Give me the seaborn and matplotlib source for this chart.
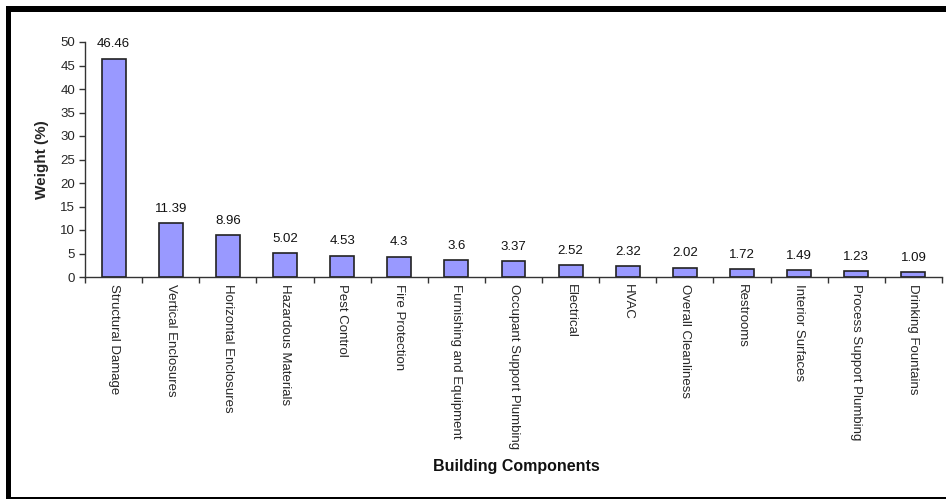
import matplotlib
matplotlib.use("Agg")
import matplotlib.pyplot as plt
import seaborn as sns
import pandas as pd
import numpy as np
from matplotlib.patches import Rectangle

categories = ["Structural Damage", "Vertical Enclosures", "Horizontal Enclosures",
              "Hazardous Materials", "Pest Control", "Fire Protection",
              "Furnishing and Equipment", "Occupant Support Plumbing", "Electrical",
              "HVAC", "Overall Cleanliness", "Restrooms", "Interior Surfaces",
              "Process Support Plumbing", "Drinking Fountains"]
weights = [46.46, 11.39, 8.96, 5.02, 4.53, 4.3, 3.6, 3.37, 2.52, 2.32, 2.02, 1.72, 1.49, 1.23, 1.09]
value_labels = ["46.46", "11.39", "8.96", "5.02", "4.53", "4.3", "3.6", "3.37", "2.52",
                "2.32", "2.02", "1.72", "1.49", "1.23", "1.09"]

sns.set_theme(style="white")
plt.rcParams['font.family'] = ['Liberation Sans', 'DejaVu Sans']

df = pd.DataFrame({"Component": categories, "Weight": weights})

fig = plt.figure(figsize=(9.46, 5.0), dpi=100)
ax = fig.add_axes([85/946, 223/500, 857/946, 235/500])

sns.barplot(data=df, x="Component", y="Weight", color="#9999FF", width=0.42,
            edgecolor="#222222", linewidth=1.2, saturation=1, ax=ax)

ax.set_xlim(-0.5, len(categories) - 0.5)
ax.set_ylim(0, 50)
ax.set_yticks(np.arange(0, 51, 5))
ax.tick_params(axis='y', labelsize=9.5, length=4, width=1, color="#333333", pad=3, left=True, direction='out')
ax.set_xticks(range(len(categories)))
ax.set_xticklabels(categories, rotation=-90, fontsize=9.5, va='top', ha='center')
ax.tick_params(axis='x', which='major', length=0, pad=5)
ax.set_xticks(np.arange(-0.5, len(categories) + 0.5, 1), minor=True)
ax.tick_params(axis='x', which='minor', length=4, width=1, color="#333333", bottom=True, direction='out')

for s in ["top", "right"]:
    ax.spines[s].set_visible(False)
for s in ["left", "bottom"]:
    ax.spines[s].set_color("#333333")
    ax.spines[s].set_linewidth(1)

for i, (v, t) in enumerate(zip(weights, value_labels)):
    ax.annotate(t, (i, v), xytext=(0, 6), textcoords="offset points",
                ha="center", va="bottom", fontsize=9.5, color="#111111")

ax.set_ylabel("Weight (%)", fontsize=11, fontweight="bold", labelpad=8)
ax.set_xlabel("")
fig.text(516/946, 1 - 466/500, "Building Components", ha="center", va="center",
         fontsize=11.5, fontweight="bold", color="#111111")

# figure frame
fig.patches.append(Rectangle((6/946, 1 - 12/500), 940/946, 6/500, transform=fig.transFigure,
                             facecolor="black", edgecolor="none", zorder=10))
fig.patches.append(Rectangle((6/946, 1 - 499/500), 5/946, 493/500, transform=fig.transFigure,
                             facecolor="black", edgecolor="none", zorder=10))
fig.patches.append(Rectangle((6/946, 1 - 499/500), 940/946, 2/500, transform=fig.transFigure,
                             facecolor="black", edgecolor="none", zorder=10))

fig.savefig("out.png", dpi=100)
